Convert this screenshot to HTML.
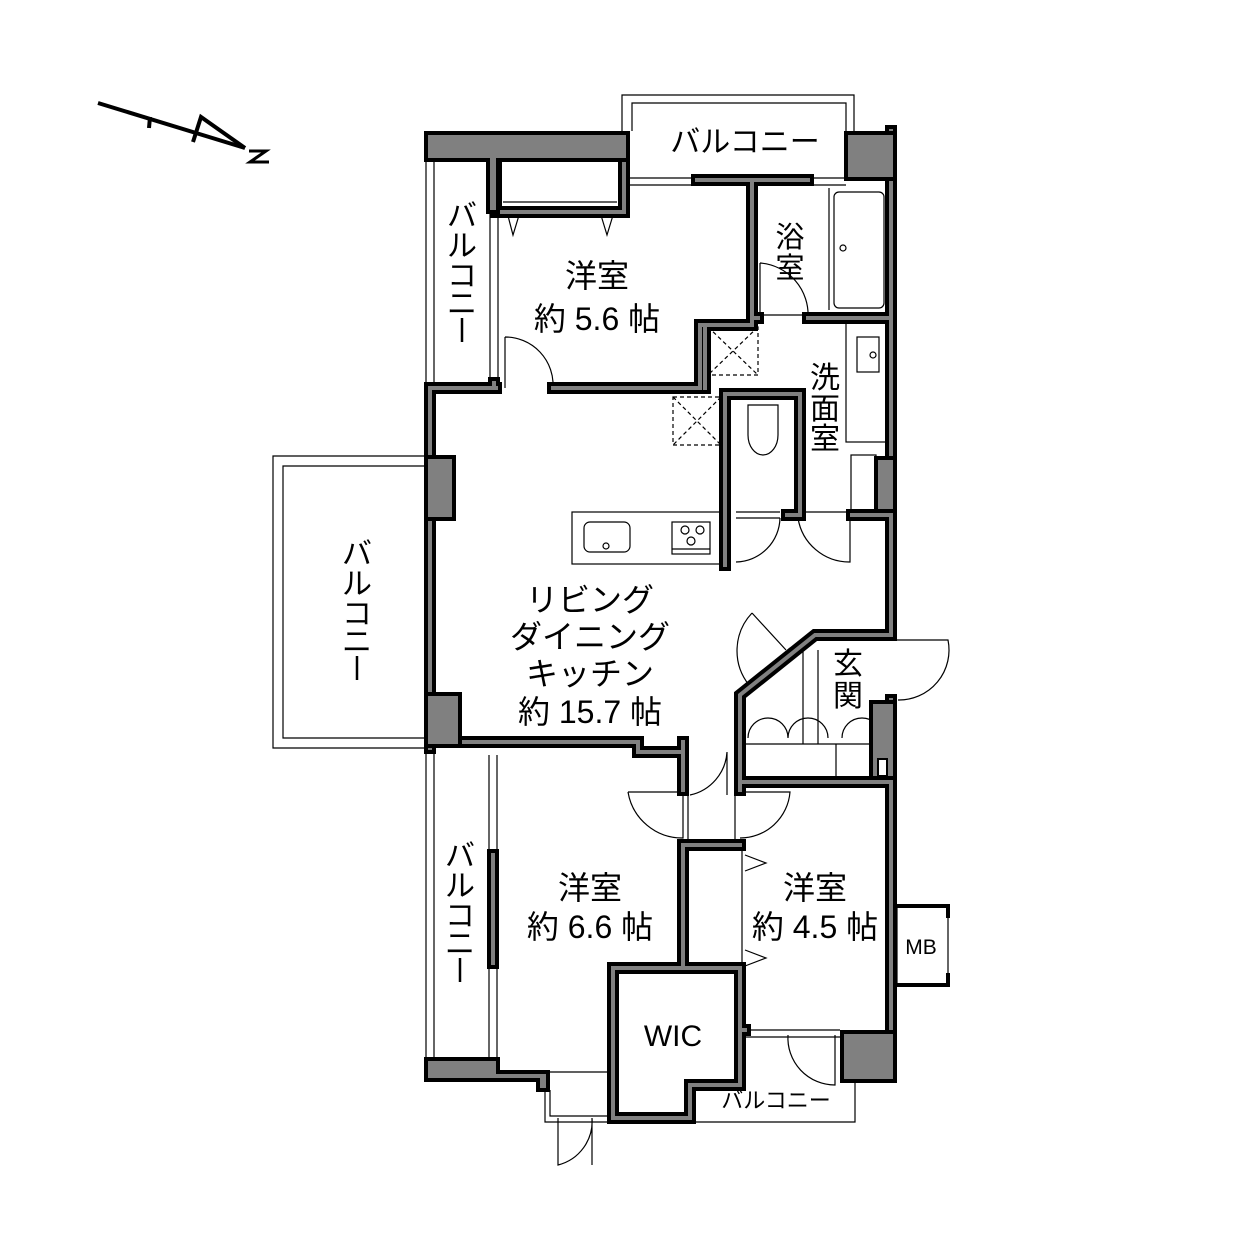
<!DOCTYPE html>
<html><head><meta charset="utf-8"><style>
html,body{margin:0;padding:0;background:#fff;}
svg{display:block;}
text{font-family:"Liberation Sans","Noto Sans CJK JP",sans-serif;fill:#000;}
</style></head><body>
<svg width="1252" height="1252" viewBox="0 0 1252 1252" xmlns="http://www.w3.org/2000/svg">
<rect width="1252" height="1252" fill="#fff"/>
<g stroke="#000" stroke-width="4" fill="none">
<line x1="98" y1="103" x2="245" y2="148"/>
<line x1="150" y1="117" x2="149" y2="128"/>
<polyline points="193,142 201,117 245,148"/>
<polyline points="249,151 266,151 250,162 269,162" stroke-width="3"/>
</g>

<g stroke="#000" stroke-width="1.2" fill="none">
<polyline points="622,131 622,95 854,95 854,131"/>
<polyline points="632,131 632,103 846,103 846,131"/>
<line x1="426" y1="160" x2="426" y2="383"/><line x1="434" y1="160" x2="434" y2="383"/>
<polyline points="424,456 273,456 273,748 424,748"/>
<polyline points="424,466 283,466 283,738 424,738"/>
<line x1="426" y1="748" x2="426" y2="1057"/><line x1="434" y1="748" x2="434" y2="1057"/>
<polyline points="545,1090 545,1122 855,1122 855,1083"/>
<polyline points="550,1090 550,1116 612,1116"/>
<rect x="897" y="906" width="51" height="79"/>
<line x1="490" y1="212" x2="490" y2="383"/><line x1="498" y1="212" x2="498" y2="383"/>
<line x1="630" y1="178" x2="697" y2="178"/><line x1="630" y1="185" x2="697" y2="185"/>
<line x1="808" y1="178" x2="846" y2="178"/><line x1="808" y1="185" x2="846" y2="185"/>
<line x1="428" y1="520" x2="428" y2="693"/><line x1="434" y1="520" x2="434" y2="693"/>
<line x1="489" y1="755" x2="489" y2="1057"/><line x1="497" y1="755" x2="497" y2="1057"/>
<line x1="745" y1="1030" x2="840" y2="1030"/><line x1="745" y1="1037" x2="840" y2="1037"/>
<line x1="548" y1="1072" x2="608" y2="1072"/>
<line x1="503" y1="202" x2="617" y2="202"/>
<polyline points="507,212 513,235 520,212"/><polyline points="600,212 607,235 614,212"/>
<rect x="834" y="192" width="50" height="116" rx="5"/>
<circle cx="843" cy="248" r="3"/>
<line x1="829" y1="188" x2="829" y2="310"/>
<line x1="760" y1="315" x2="808" y2="315"/>
<path d="M760,263 L760,320 M760,263 A52,52 0 0 1 808,318"/>
<rect x="846" y="322" width="42" height="120"/>
<rect x="857" y="337" width="22" height="35"/><circle cx="873" cy="355" r="3"/>
<rect x="851" y="455" width="25" height="55"/>
<path d="M748,405 h30 v30 a15,20 0 0 1 -30,0 z"/>
<rect x="572" y="512" width="150" height="52"/>
<rect x="584" y="522" width="46" height="30" rx="6"/><circle cx="606" cy="546" r="3"/>
<rect x="672" y="522" width="38" height="32"/>
<circle cx="685" cy="530" r="4"/><circle cx="700" cy="530" r="4"/><circle cx="691" cy="541" r="4"/>
<line x1="672" y1="549" x2="710" y2="549"/>
<path d="M505,337 L505,388 M505,337 A48,48 0 0 1 553,388"/>
<path d="M736,562 A45,45 0 0 0 780,518 M736,512 L780,512 M736,518 L780,518"/>
<path d="M798,518 A52,52 0 0 0 850,562 L850,518 M800,512 L850,512"/>
<path d="M752,613 L786,650 M752,613 A55,55 0 0 0 749,685 M745,690 L790,648"/>
<path d="M897,640 L948,640 A50,50 0 0 1 898,700"/>
<path d="M748,738 a20,20 0 0 1 40,0 a20,20 0 0 1 40,0 M842,738 a20,20 0 0 1 40,0"/>
<line x1="745" y1="744" x2="870" y2="744"/><line x1="836" y1="744" x2="836" y2="778"/>
<line x1="803" y1="650" x2="803" y2="744"/><line x1="818" y1="650" x2="818" y2="744"/>
<path d="M690,795 A47,47 0 0 0 727,752 L727,795"/>
<path d="M628,792 L683,792 L683,838 A55,55 0 0 1 628,792"/>
<path d="M740,792 L790,792 A50,50 0 0 1 740,838"/>
<line x1="688" y1="792" x2="688" y2="840"/><line x1="735" y1="792" x2="735" y2="840"/>
<line x1="742" y1="850" x2="742" y2="968"/>
<polyline points="745,855 766,863 745,871"/><polyline points="745,950 766,958 745,966"/>
<path d="M788,1035 A47,47 0 0 0 835,1085 L835,1035"/>
<path d="M558,1118 L558,1165 A45,45 0 0 0 592,1118 M592,1118 L592,1165"/>
</g>
<g stroke="#000" stroke-width="1.2" fill="none" stroke-dasharray="4,3">
<rect x="708" y="327" width="50" height="48"/><path d="M708,327 L758,375 M758,327 L708,375"/>
<rect x="673" y="397" width="48" height="48"/><path d="M673,397 L721,445 M721,397 L673,445"/>
<line x1="668" y1="972" x2="722" y2="972"/>
</g>

<defs><g id="W" fill="none">
<path d="M430,388 L496,388 M553,388 L700,388 L700,325 L752,325 L752,183 M697,180 L808,180"/>
<path d="M752,183 L752,318 L758,318 M808,318 L891,318"/>
<path d="M430,388 L430,748 M430,742 L638,742 L638,752 L680,752 M683,742 L683,790"/>
<path d="M705,325 L705,388 M725,394 L725,565 M725,394 L800,394 L800,515 L787,515 M852,515 L891,515"/>
<path d="M891,131 L891,635 L815,635 L740,695 L740,782 L891,782 L891,1030"/>
<path d="M683,845 L740,845 M683,845 L683,968 M613,968 L740,968 L740,1085 L690,1085 L690,1118 L613,1118 L613,968"/>
<path d="M740,782 L740,790 M740,1030 L745,1030"/>
<path d="M493,855 L493,963 M494,383 L494,388"/>
<path d="M496,141 L624,141 L624,212 L496,212 Z"/>
<path d="M891,700 L891,1035"/>
</g></defs>
<use href="#W" stroke="#000" stroke-width="12" stroke-linecap="square"/>
<use href="#W" stroke="#808080" stroke-width="4" stroke-linecap="square"/>

<g fill="#808080" stroke="#000" stroke-width="4">
<path d="M426,133 L628,133 L628,160 L498,160 L498,212 L488,212 L488,160 L426,160 Z"/>
<rect x="846" y="133" width="49" height="46"/>
<rect x="426" y="457" width="28" height="62"/>
<rect x="426" y="694" width="34" height="52"/>
<rect x="876" y="458" width="19" height="53"/>
<rect x="871" y="702" width="24" height="76"/>
<rect x="842" y="1032" width="53" height="49"/>
<path d="M426,1059 L498,1059 L498,1072 L548,1072 L548,1090 L538,1090 L538,1080 L426,1080 Z"/>
</g>
<rect x="878" y="759" width="9" height="17" fill="#fff" stroke="#000" stroke-width="2"/>
<g stroke="#000" stroke-width="4" fill="none">
<polyline points="897,906 948,906 948,918"/><polyline points="897,985 948,985 948,973"/>
</g>

<g font-size="32" text-anchor="middle">
<text x="745" y="152" font-size="30">バルコニー</text>
<text x="597" y="287">洋室</text><text x="597" y="330">約 5.6 帖</text>
<text x="790" y="247" font-size="29">浴</text><text x="790" y="278" font-size="29">室</text>
<text x="825" y="388" font-size="30">洗</text><text x="825" y="419" font-size="30">面</text><text x="825" y="449" font-size="30">室</text>
<text x="590" y="611">リビング</text><text x="590" y="648">ダイニング</text>
<text x="590" y="685">キッチン</text><text x="590" y="723">約 15.7 帖</text>
<text x="848" y="674" font-size="30">玄</text><text x="848" y="706" font-size="30">関</text>
<text x="590" y="899">洋室</text><text x="590" y="938">約 6.6 帖</text>
<text x="815" y="899">洋室</text><text x="815" y="938">約 4.5 帖</text>
<text x="673" y="1046" font-size="30">WIC</text>
<text x="462" y="226" font-size="30">バ</text><text x="462" y="256" font-size="30">ル</text><text x="462" y="286" font-size="30">コ</text><text x="462" y="314" font-size="30">ニ</text>
<text x="357" y="564" font-size="30">バ</text><text x="357" y="594" font-size="30">ル</text><text x="357" y="624" font-size="30">コ</text><text x="357" y="652" font-size="30">ニ</text>
<text x="460" y="866" font-size="30">バ</text><text x="460" y="896" font-size="30">ル</text><text x="460" y="926" font-size="30">コ</text><text x="460" y="954" font-size="30">ニ</text>
</g>
<g stroke="#000" stroke-width="2.5">
<line x1="462" y1="318" x2="462" y2="342"/>
<line x1="357" y1="656" x2="357" y2="680"/>
<line x1="460" y1="958" x2="460" y2="982"/>
</g>
<text x="921" y="954" font-size="21" text-anchor="middle">MB</text>
<text x="776" y="1108" font-size="22" text-anchor="middle">バルコニー</text>
</svg>
</body></html>
